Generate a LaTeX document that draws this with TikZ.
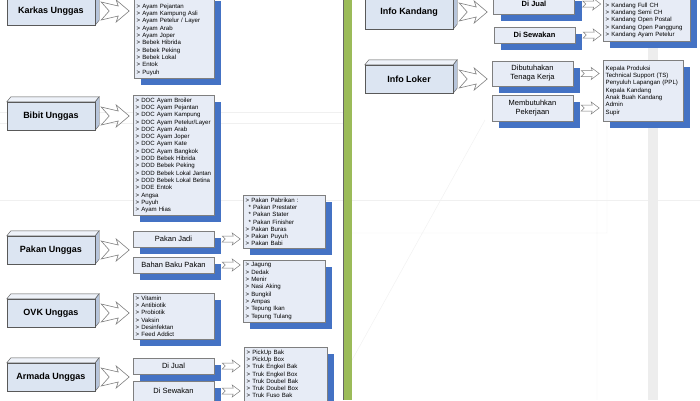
\documentclass[tikz,border=0pt]{standalone}
\usepackage{fontspec}
\setmainfont{Liberation Sans}
\usetikzlibrary{shadows,calc}
\hyphenpenalty=10000
\definecolor{frontfill}{HTML}{DCE5F2}
\definecolor{topfill}{HTML}{EEF2F9}
\definecolor{sidefill}{HTML}{B7C5DB}
\definecolor{boxline}{HTML}{595959}
\definecolor{listfill}{HTML}{E7ECF6}
\definecolor{listline}{HTML}{7F7F7F}
\definecolor{shadowblue}{HTML}{4472C4}
\definecolor{bargreen}{HTML}{9BBB59}
\tikzset{main box/.style={draw=boxline,fill=frontfill,minimum width=88pt,minimum height=28pt,inner sep=0pt,
            font=\fontsize{9}{11}\selectfont\bfseries,
            append after command={\pgfextra{
              \filldraw[draw=boxline,fill=topfill] (\tikzlastnode.north west) -- ++(4pt,5pt)
                -- ([shift={(4pt,5pt)}]\tikzlastnode.north east) -- (\tikzlastnode.north east) -- cycle;
              \filldraw[draw=boxline,fill=sidefill] (\tikzlastnode.north east) -- ++(4pt,5pt)
                -- ([shift={(4pt,5pt)}]\tikzlastnode.south east) -- (\tikzlastnode.south east) -- cycle;}}},
         blue shadow/.style={drop shadow={shadow xshift=7pt,shadow yshift=-7pt,fill=shadowblue,opacity=1}},
         sub box/.style={draw=listline,fill=listfill,minimum width=81pt,minimum height=16pt,inner sep=1pt,
            align=center,font=\fontsize{7.5}{9}\selectfont,blue shadow},
         list box/.style={draw=listline,fill=listfill,inner xsep=2.5pt,inner ysep=2.5pt,align=left,
            font=\fontsize{6.1}{7.3}\selectfont,blue shadow},
         big arrow/.pic={\filldraw[draw=listline,fill=white,line width=0.6pt]
            (-14,-9) -- (3,-5) -- (1,-11) -- (14,0) -- (1,11) -- (3,5) -- (-14,9) -- (-6,0) -- cycle;},
         small arrow/.pic={\filldraw[draw=listline,fill=white,line width=0.5pt]
            (-9,-3) -- (2,-3) -- (1,-6) -- (9,0) -- (1,6) -- (2,3) -- (-9,3) -- (-6,0) -- cycle;},
            }

\begin{document}
\begin{tikzpicture}[x=1pt,y=-1pt]
  \useasboundingbox[fill=white] (0,0) rectangle (700,400);
  \clip (0,0) rectangle (700,400);
  % background
  \draw[black!6] (0,112) -- (343,112) (0,123) -- (343,123) (0,200) -- (343,200) (352,200) -- (700,200);
  \draw[black!6] (352,233) -- (607,233) -- (607,120) (597,120) -- (597,400) (485,120) -- (352,360);
  \fill[black!7] (648,45) rectangle (658,400);
  \fill[bargreen] (343,0) rectangle (352,400);
  \draw[black!60] (343,0) -- (343,400);

  % left column
  \node[main box] (karkas) at (51,11) {Karkas Unggas};
  \node[main box] (bibit) at (51,116) {Bibit Unggas};
  \node[main box] (pakan) at (51,250) {Pakan Unggas};
  \node[main box] (ovk) at (51,313) {OVK Unggas};
  \node[main box] (armada) at (51,377) {Armada Unggas};

  \node[list box,text width=75pt,anchor=south west] (karkaslist) at (134,78)
    {\rule{0pt}{12pt}> Ayam Pejantan\\> Ayam Kampung Asli\\> Ayam Petelur / Layer\\> Ayam Arab\\> Ayam Joper\\
     > Bebek Hibrida\\> Bebek Peking\\> Bebek Lokal\\> Entok\\> Puyuh};
  \node[list box,text width=76pt,anchor=north west] (bibitlist) at (133,95)
    {> DOC Ayam Broiler\\> DOC Ayam Pejantan\\> DOC Ayam Kampung\\> DOC Ayam Petelur/Layer\\> DOC Ayam Arab\\
     > DOC Ayam Joper\\> DOC Ayam Kate\\> DOC Ayam Bangkok\\> DOD Bebek Hibrida\\> DOD Bebek Peking\\
     > DOD Bebek Lokal Jantan\\> DOD Bebek Lokal Betina\\> DOE Entok\\> Angsa\\> Puyuh\\> Ayam Hias};
  \node[sub box] (pakanjadi) at (173.5,239) {Pakan Jadi};
  \node[sub box] (bahanbaku) at (173.5,265) {Bahan Baku Pakan};
  \node[list box,text width=77pt,anchor=north west] (pakanlist) at (243,195)
    {> Pakan Pabrikan :\\\hspace{3pt}* Pakan Prestater\\\hspace{3pt}* Pakan Stater\\\hspace{3pt}* Pakan Finisher\\
     > Pakan Buras\\> Pakan Puyuh\\> Pakan Babi};
  \node[list box,text width=77pt,anchor=north west] (bahanlist) at (243,260)
    {> Jagung\\> Dedak\\> Menir\\> Nasi Aking\\> Bungkil\\> Ampas\\> Tepung Ikan\\> Tepung Tulang};
  \node[list box,text width=76pt,anchor=north west] (ovklist) at (133,293)
    {> Vitamin\\> Antibiotik\\> Probiotik\\> Vaksin\\> Desinfektan\\> Feed Addict};
  \node[sub box] (armadajual) at (173.5,366) {Di Jual};
  \node[sub box,minimum height=20pt] (armadasewa) at (173.5,391) {Di Sewakan};
  \node[list box,text width=78pt,anchor=north west] (armadalist) at (244,347)
    {> PickUp Bak\\> PickUp Box\\> Truk Engkel Bak\\> Truk Engkel Box\\> Truk Doubel Bak\\> Truk Doubel Box\\
     > Truk Fuso Bak\rule[-8pt]{0pt}{0pt}};

  \pic at ($(karkas.east)+(20pt,0)$) {big arrow};
  \pic at ($(bibit.east)+(20pt,0)$) {big arrow};
  \pic at ($(pakan.east)+(20pt,0)$) {big arrow};
  \pic at ($(ovk.east)+(20pt,0)$) {big arrow};
  \pic at ($(armada.east)+(20pt,0)$) {big arrow};
  \pic at ($(pakanjadi.east)+(17pt,0)$) {small arrow};
  \pic at ($(bahanbaku.east)+(17pt,0)$) {small arrow};
  \pic at ($(armadajual.east)+(17pt,0)$) {small arrow};
  \pic at ($(armadasewa.east)+(17pt,0)$) {small arrow};

  % right column
  \node[main box,minimum height=34pt] (kandang) at (409,12) {Info Kandang};
  \node[main box] (loker) at (409,79) {Info Loker};

  \node[sub box,minimum height=20pt,font=\fontsize{7.5}{9}\selectfont\bfseries] (kandangjual) at (534,4) {Di Jual};
  \node[sub box,font=\fontsize{7.5}{9}\selectfont\bfseries] (kandangsewa) at (534.5,35) {Di Sewakan};
  \node[sub box,minimum height=25pt] (dibutuhkan) at (532.5,73.5) {Dibutuhakan\\Tenaga Kerja};
  \node[sub box,minimum height=26pt] (membutuhkan) at (532.5,108) {Membutuhkan\\Pekerjaan};
  \node[list box,text width=82pt,anchor=south west] (kandanglist) at (603,41)
    {\rule{0pt}{12pt}> Kandang Full CH\\> Kandang Semi CH\\> Kandang Open Postal\\> Kandang Open Panggung\\
     > Kandang Ayam Petelur\rule[-2pt]{0pt}{0pt}};
  \node[list box,text width=75pt,minimum height=61pt,anchor=north west] (lokerlist) at (603,60)
    {Kepala Produksi\\Technical Support (TS)\\Penyuluh Lapangan (PPL)\\Kepala Kandang\\Anak Buah Kandang\\Admin\\Supir};

  \pic at ($(kandang.east)+(20pt,0)$) {big arrow};
  \pic at ($(loker.east)+(20pt,0)$) {big arrow};
  \pic at ($(kandangjual.east)+(17pt,0)$) {small arrow};
  \pic at ($(kandangsewa.east)+(17pt,0)$) {small arrow};
  \pic at ($(dibutuhkan.east)+(17pt,0)$) {small arrow};
  \pic at ($(membutuhkan.east)+(17pt,0)$) {small arrow};
\end{tikzpicture}
\end{document}
